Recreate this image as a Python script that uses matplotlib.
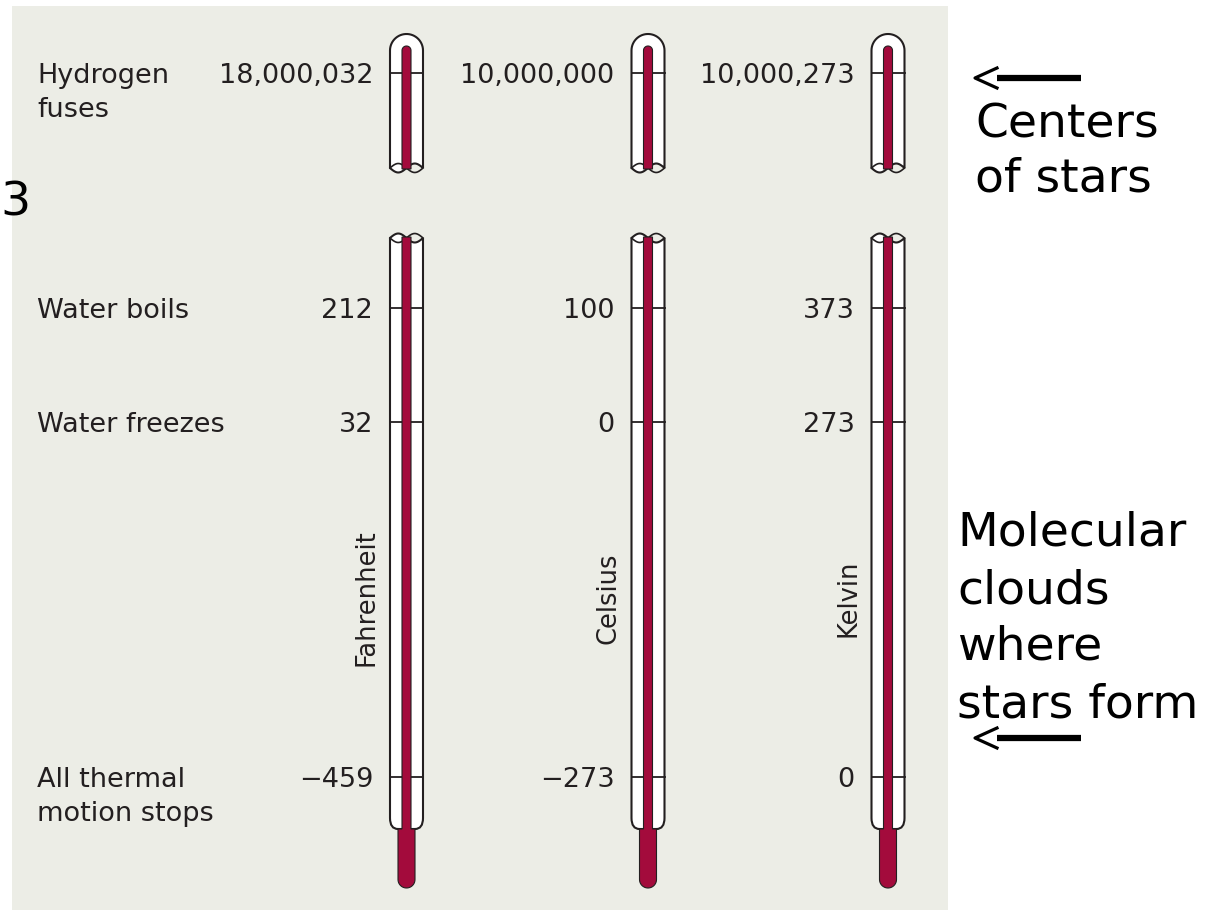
import numpy as np
import matplotlib.pyplot as plt
from matplotlib.path import Path
from matplotlib.patches import PathPatch, Rectangle

# reference points and the reading on each scale
levels = ["Hydrogen\nfuses", "Water boils", "Water freezes", "All thermal\nmotion stops"]
scales = ["Fahrenheit", "Celsius", "Kelvin"]
fahrenheit = [18000032, 212, 32, -459]
celsius = [10000000, 100, 0, -273]
kelvin = [10000273, 373, 273, 0]
readings = [fahrenheit, celsius, kelvin]

# notes on the right
note_top = "Centers\nof stars"
note_bottom = "Molecular\nclouds\nwhere\nstars form"

# layout in pixels (drawing is not to scale)
W, H = 1213, 910
level_y = [73, 308, 422, 777]
therm_x = [406.5, 648, 888]

RED = "#a30b3c"
INK = "#231f20"
PANEL = "#ecede6"
FONT = "DejaVu Sans"
FS = 19.5

hw, rw, bw = 16.5, 4.5, 8.5      # tube, column, bulb half widths
amp = 4.5                        # break wave height


def fmt(v):
    s = f"{abs(v):,}"
    return "\u2212" + s if v < 0 else s


def wave(xc, yc, sign, n=30):
    t = np.linspace(0, 1, n)
    return xc - hw + 2 * hw * t, yc + sign * amp * np.sin(2 * np.pi * t)


def lines_text(ax, x, y, text, step, **kw):
    # one text per line so the baseline spacing is exact
    for i, line in enumerate(text.split("\n")):
        ax.text(x, y + i * step, line, va="baseline", **kw)


def draw_thermometer(ax, xc):
    # upper piece: rounded top, broken bottom
    th = np.linspace(np.pi, 0, 30)
    top_x = xc + hw * np.cos(th)
    top_y = 34 + hw - hw * np.sin(th)
    wx, wy = wave(xc, 168, 1)
    px = np.concatenate([[xc - hw], top_x, [xc + hw], wx[::-1]])
    py = np.concatenate([[168], top_y, [168], wy[::-1]])
    ax.fill(px, py, facecolor="white", edgecolor=INK, lw=1.5, zorder=2)
    bx, by = wave(xc, 168, -1)
    ax.plot(bx, by, color=INK, lw=1.2, zorder=2)

    # lower piece: broken top, narrows into the bulb
    wx, wy = wave(xc, 238, -1)
    verts = list(zip(wx, wy)) + [(xc + hw, 818), (xc + hw, 829), (xc + bw, 829),
                                 (xc - bw, 829), (xc - hw, 829), (xc - hw, 818),
                                 (wx[0], wy[0])]
    codes = [Path.MOVETO] + [Path.LINETO] * (len(wx) - 1) + [
        Path.LINETO, Path.CURVE3, Path.CURVE3, Path.LINETO,
        Path.CURVE3, Path.CURVE3, Path.CLOSEPOLY]
    ax.add_patch(PathPatch(Path(verts, codes), facecolor="white",
                           edgecolor=INK, lw=1.5, zorder=2))
    bx, by = wave(xc, 238, 1)
    ax.plot(bx, by, color=INK, lw=1.2, zorder=2)

    # scale marks
    for y in level_y:
        ax.plot([xc - hw, xc + hw], [y, y], color=INK, lw=1.3, zorder=3)

    # red column, upper piece
    th = np.linspace(np.pi, 0, 20)
    cx = np.concatenate([[xc - rw], xc + rw * np.cos(th), [xc + rw]])
    cy = np.concatenate([[169], 46 + rw - rw * np.sin(th), [169]])
    ax.fill(cx, cy, facecolor=RED, edgecolor=INK, lw=0.8, zorder=4)

    # red column and bulb, lower piece
    th = np.linspace(0, np.pi, 20)
    cx = np.concatenate([[xc - rw, xc + rw, xc + rw, xc + bw],
                         xc + bw * np.cos(th),
                         [xc - bw, xc - rw]])
    cy = np.concatenate([[237, 237, 829, 829],
                         888 - bw + bw * np.sin(th),
                         [829, 829]])
    ax.fill(cx, cy, facecolor=RED, edgecolor=INK, lw=0.8, zorder=4)


fig = plt.figure(figsize=(W / 100, H / 100), dpi=100)
ax = fig.add_axes([0, 0, 1, 1])
ax.set_xlim(0, W)
ax.set_ylim(H, 0)
ax.axis("off")

ax.add_patch(Rectangle((12, 6), 936, H - 6, facecolor=PANEL, edgecolor="none", zorder=0))

# level names on the left
for name, y in zip(levels, level_y):
    lines_text(ax, 37, y + 10, name, 34, fontsize=FS, family=FONT, color=INK,
               ha="left", zorder=5)

# thermometers with readings
for xc, scale, vals in zip(therm_x, scales, readings):
    draw_thermometer(ax, xc)
    for v, y in zip(vals, level_y):
        ax.text(xc - hw - 17, y + 10, fmt(v), fontsize=FS, family=FONT,
                color=INK, ha="right", va="baseline", zorder=5)
    ax.text(xc - hw - 16, 598, scale, fontsize=18.5, family=FONT, color=INK,
            rotation=90, rotation_mode="anchor", ha="center", va="baseline", zorder=5)

# right-hand notes
ax.text(31, 215, "3", fontsize=34, family=FONT, color="black", ha="right", va="baseline")
lines_text(ax, 975, 137, note_top, 55, fontsize=34, family=FONT, color="black", ha="left")
lines_text(ax, 957, 546, note_bottom, 57, fontsize=34, family=FONT, color="black", ha="left")

for ya in [78, 738]:
    ax.plot([997, 1081], [ya, ya], color="black", lw=4.5, solid_capstyle="butt")
    ax.plot([997, 975, 997], [ya - 10, ya, ya + 10], color="black", lw=2.3)

fig.savefig("out.png", dpi=100)
